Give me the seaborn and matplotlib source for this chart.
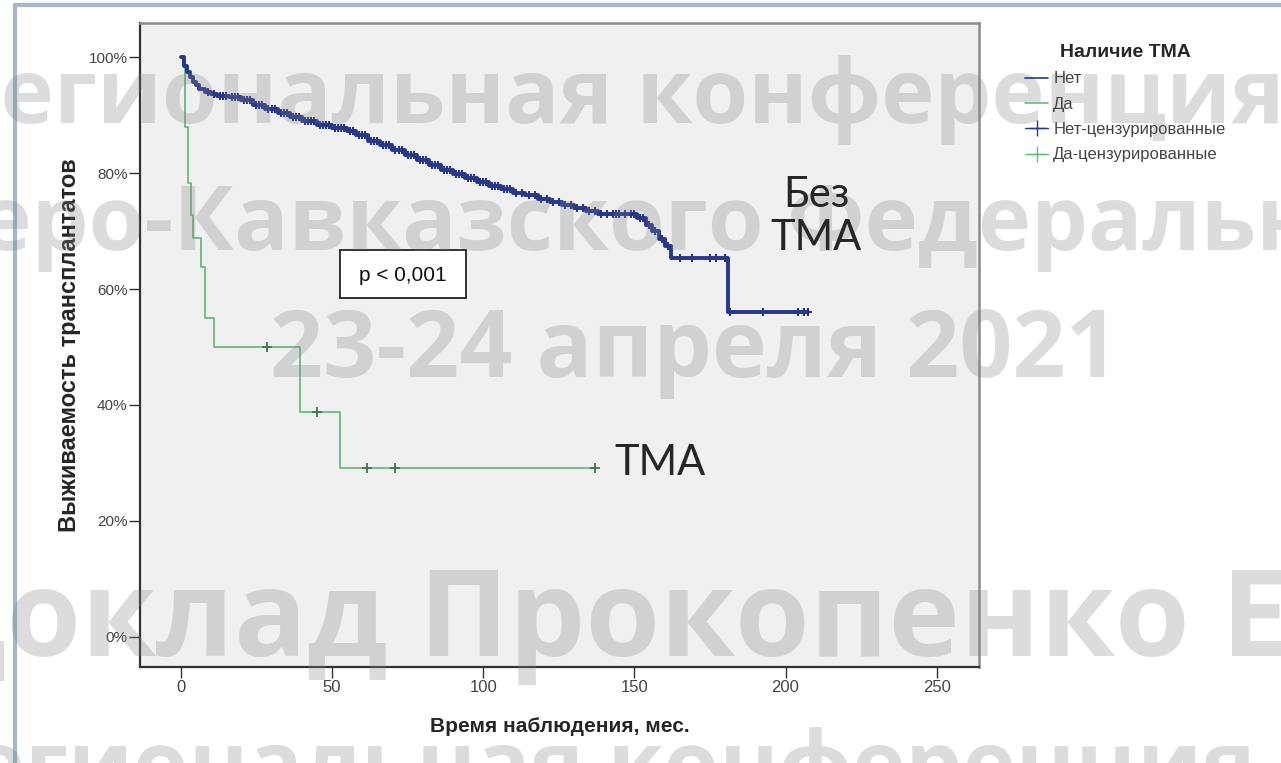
import numpy as np
import pandas as pd
import matplotlib
matplotlib.use("Agg")
import matplotlib.pyplot as plt
from matplotlib.lines import Line2D
from matplotlib.patches import Rectangle
import seaborn as sns

W, H = 1281, 763

# Kaplan-Meier, group "Нет" (no TMA): months / survival %
no_time = [0, 1, 2, 3, 4, 5, 6, 8, 10, 12, 16, 20, 24, 28, 32, 36, 40, 45, 50, 55,
           58, 62, 66, 70, 74, 78, 82, 86, 90, 94, 98, 102, 106, 110, 114, 118, 122,
           126, 130, 134, 138, 151, 154, 156, 158, 160, 162, 181, 207.5]
no_surv = [100, 98.5, 97.5, 96.5, 95.8, 95.2, 94.6, 94.0, 93.6, 93.3, 93.2, 92.6, 91.8,
           91.0, 90.3, 89.6, 89.0, 88.3, 87.8, 87.3, 86.5, 85.6, 84.8, 84.0, 83.1, 82.2,
           81.4, 80.6, 79.8, 79.2, 78.4, 77.8, 77.2, 76.6, 76.2, 75.6, 75.0, 74.5, 74.0,
           73.4, 73.0, 72.2, 71.0, 70.0, 68.6, 67.5, 65.3, 56.0, 56.0]
no_censored = [9, 11, 13, 14, 15, 17, 18, 19, 21, 22, 23, 25, 26, 27, 29, 30, 31, 33, 34,
               35, 37, 38, 39, 41, 42, 43, 44, 46, 47, 48, 49, 51, 52, 53, 54, 56, 57, 59,
               60, 61, 63, 64, 65, 67, 68, 69, 71, 72, 73, 75, 76, 77, 79, 80, 81, 83, 84,
               85, 87, 88, 89, 91, 92, 93, 95, 96, 97, 99, 100, 101, 103, 104, 105, 107,
               108, 109, 111, 113, 115, 117, 119, 121, 123, 125, 127, 129, 131, 133, 135,
               137, 139, 141, 143, 144, 145, 147, 149, 150, 152, 153, 155, 157, 159, 161,
               165, 169, 175, 177, 180, 181.5, 192.5, 204, 206, 207.5]

# group "Да" (TMA)
yes_time = [0, 1.5, 2.5, 3.5, 4.1, 6.8, 7.9, 11, 39.5, 52.5, 137]
yes_surv = [100, 88, 78.3, 72.8, 68.8, 63.8, 55.0, 50.0, 38.8, 29.2, 29.2]
yes_censored = [28.4, 45, 61.5, 71, 137]

y_ticks = [0, 20, 40, 60, 80, 100]
y_labels = ["0%", "20%", "40%", "60%", "80%", "100%"]
x_ticks = [0, 50, 100, 150, 200, 250]

legend_title = "Наличие ТМА"
legend_labels = ["Нет", "Да", "Нет-цензурированные", "Да-цензурированные"]

watermarks = ["Региональная конференция", "Северо-Кавказского Федерального",
              "23-24 апреля 2021", "Доклад Прокопенко Е.В.", "Региональная конференция"]

BLUE = "#27378c"
GREEN = "#6ab97e"
GREEN_DARK = "#3f7350"


def step_value(times, surv, t):
    i = np.searchsorted(times, t, side="right") - 1
    return np.asarray(surv)[i]


sns.set_style("white")
plt.rcParams["font.family"] = ["Liberation Sans", "DejaVu Sans"]

fig = plt.figure(figsize=(W / 100, H / 100), dpi=100)
fig.patch.set_facecolor("white")
ax = fig.add_axes([140 / W, 1 - 667 / H, (979 - 140) / W, (667 - 23) / H])
ax.set_facecolor("#f0f0f0")

no_df = pd.DataFrame({"t": no_time, "s": no_surv})
yes_df = pd.DataFrame({"t": yes_time, "s": yes_surv})
no_cens_df = pd.DataFrame({"t": no_censored,
                           "s": step_value(no_time, no_surv, no_censored)})
yes_cens_df = pd.DataFrame({"t": yes_censored,
                            "s": step_value(yes_time, yes_surv, yes_censored)})

sns.lineplot(data=yes_df, x="t", y="s", drawstyle="steps-post", color=GREEN,
             lw=1.3, estimator=None, ax=ax)
sns.scatterplot(data=yes_cens_df, x="t", y="s", marker="+", s=45, color=GREEN_DARK,
                linewidth=1.3, ax=ax, zorder=3)
sns.lineplot(data=no_df, x="t", y="s", drawstyle="steps-post", color=BLUE,
             lw=2.8, estimator=None, ax=ax)
sns.scatterplot(data=no_cens_df, x="t", y="s", marker="+", s=40, color=BLUE,
                linewidth=1.5, ax=ax, zorder=4)

ax.set_xlim(-13.5, 264)
ax.set_ylim(-5.2, 105.9)
ax.set_xticks(x_ticks)
ax.set_yticks(y_ticks)
ax.set_yticklabels(y_labels)
ax.tick_params(axis="both", direction="out", length=8, width=1, color="#333",
               labelcolor="#444", labelsize=12, pad=1, left=True, bottom=True)
ax.tick_params(axis="y", labelsize=11)
for side in ["left", "bottom"]:
    ax.spines[side].set_color("#333")
    ax.spines[side].set_linewidth(1.6)
for side in ["top", "right"]:
    ax.spines[side].set_color("#8c8c8c")
    ax.spines[side].set_linewidth(1.8)

ax.set_xlabel("Время наблюдения, мес.", fontsize=15, fontweight="bold", va="center")
ax.set_ylabel("Выживаемость трансплантатов", fontsize=17, fontweight="bold", va="center")
ax.xaxis.set_label_coords(0.5, -(727 - 667) / (667 - 23))
ax.yaxis.set_label_coords((70 - 140) / (979 - 140), 0.5)

# p-value box
ax.add_patch(Rectangle((52.6, 58.4), 41.6, 8.3, fc="white", ec="#222", lw=1.3, zorder=5))
ax.text(73.4, 62.4, "p < 0,001", ha="center", va="center", fontsize=15, color="#111",
        zorder=6)

handles = [
    Line2D([0], [0], color=BLUE, lw=1.2),
    Line2D([0], [0], color=GREEN, lw=1.2),
    Line2D([0], [0], color=BLUE, lw=1.0, marker="+", ms=11, mew=1.0),
    Line2D([0], [0], color=GREEN, lw=1.0, marker="+", ms=11, mew=1.0),
]
leg = fig.legend(handles, legend_labels, title=legend_title, loc="upper left",
                 bbox_to_anchor=(1010 / W, 1 - 29 / H), frameon=False, fontsize=12,
                 handlelength=1.4, handletextpad=0.3, labelspacing=0.62,
                 title_fontproperties={"weight": "bold", "size": 14})
for txt in leg.get_texts():
    txt.set_color("#444")


def px(x, y):
    return x / W, 1 - y / H


# slide texts
fig.text(*px(816, 207), "Без", fontsize=30, family="Lato", ha="center", va="baseline",
         zorder=6)
fig.text(*px(816, 250), "ТМА", fontsize=30, family="Lato", ha="center", va="baseline",
         zorder=6)
fig.text(*px(660, 475), "ТМА", fontsize=30, family="Lato", ha="center", va="baseline",
         zorder=6)

# watermark
wm_pos = [(-56, 123, 65), (-190, 250, 65), (270, 377, 67), (-86, 656, 87), (-85, 795, 65)]
for text, (x, y, size) in zip(watermarks, wm_pos):
    fig.text(*px(x, y), text, fontsize=size, family="Open Sans", fontweight="bold",
             color="#808080", alpha=0.27, ha="left", va="baseline", zorder=5)

# slide frame
fig.add_artist(Line2D([15 / W, 15 / W], [0, 1 - 5 / H], transform=fig.transFigure,
                      color="#a7b6ca", lw=3))
fig.add_artist(Line2D([15 / W, 1], [1 - 5 / H, 1 - 5 / H], transform=fig.transFigure,
                      color="#a7b6ca", lw=3))

fig.savefig("out.png", dpi=100)
